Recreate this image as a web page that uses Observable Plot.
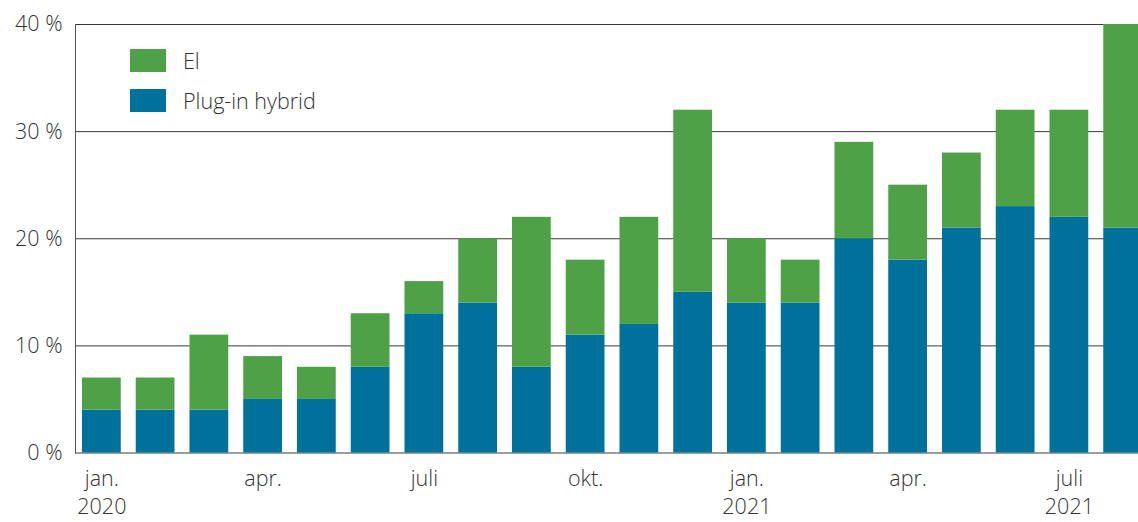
<!DOCTYPE html>
<html>
<head>
<meta charset="utf-8">
<script src="https://cdn.jsdelivr.net/npm/d3@7"></script>
<script src="https://cdn.jsdelivr.net/npm/@observablehq/plot@0.6"></script>
<style>
  html, body { margin: 0; padding: 0; background: #fff; overflow: hidden; }
  #wrap { position: relative; width: 1138px; height: 522px; overflow: hidden; }
  #wrap svg { max-width: none !important; display: block; }
  .legend { position: absolute; left: 130px; font-family: "Open Sans", sans-serif; font-weight: 300; font-size: 21.5px; color: #333; display: flex; align-items: center; line-height: 23px; }
  .legend span.sw { display: inline-block; width: 36px; height: 23px; margin-right: 17px; }
</style>
</head>
<body>
<div id="wrap"></div>
<script>
const months = ["jan. 2020","feb. 2020","mar. 2020","apr. 2020","mai 2020","jun. 2020","jul. 2020","aug. 2020","sep. 2020","okt. 2020","nov. 2020","des. 2020","jan. 2021","feb. 2021","mar. 2021","apr. 2021","mai 2021","jun. 2021","jul. 2021","aug. 2021"];
const hybrid = [4,4,4,5,5,8,13,14,8,11,12,15,14,14,20,18,21,23,22,21];
const el     = [3,3,7,4,3,5,3,6,14,7,10,17,6,4,9,7,7,9,10,19];
const series = ["Plug-in hybrid","El"];
const colors = ["#00719a","#4ea147"];
const tickIndex = [0,3,6,9,12,15,18];
const tickLabels = ["jan.\n2020","apr.","juli","okt.","jan.\n2021","apr.","juli\n2021"];
const yTicks = [0,10,20,30,40];

const data = [];
months.forEach((m, i) => {
  data.push({i, month: m, series: series[0], value: hybrid[i]});
  data.push({i, month: m, series: series[1], value: el[i]});
});

const font = '"Open Sans", sans-serif';
const chart = Plot.plot({
  width: 1149,
  height: 522,
  marginLeft: 75,
  marginRight: 0,
  marginTop: 24,
  marginBottom: 69.5,
  style: {fontFamily: font, fontSize: "21.5px", color: "#333", background: "#fff", fontWeight: 300},
  x: {type: "band", domain: d3.range(months.length), paddingInner: 0.279, paddingOuter: 0.13, round: false, axis: null},
  y: {domain: [0, 40], axis: null},
  color: {domain: series, range: colors},
  marks: [
    Plot.ruleY(yTicks, {stroke: "#3a3a3a", strokeWidth: 1}),
    Plot.barY(data, {x: "i", y: "value", fill: "series"}),
    Plot.frame({anchor: "left", stroke: "#555", strokeWidth: 1}),
    Plot.axisY({ticks: yTicks, tickSize: 0, tickPadding: 13, tickFormat: d => `${d} %`, label: null, fontSize: 21.5, fill: "#333"}),
    Plot.axisX({ticks: tickIndex, tickSize: 0, tickPadding: 13, lineHeight: 1.3, tickFormat: d => tickLabels[tickIndex.indexOf(d)], label: null, fontSize: 21.5, fill: "#333"})
  ]
});
const wrap = document.getElementById("wrap");
wrap.appendChild(chart);
const legendItems = [{name: "El", color: colors[1], top: 49}, {name: "Plug-in hybrid", color: colors[0], top: 89}];
legendItems.forEach(it => {
  const d = document.createElement("div");
  d.className = "legend";
  d.style.top = it.top + "px";
  d.innerHTML = `<span class="sw" style="background:${it.color}"></span><span>${it.name}</span>`;
  wrap.appendChild(d);
});
</script>
</body>
</html>
